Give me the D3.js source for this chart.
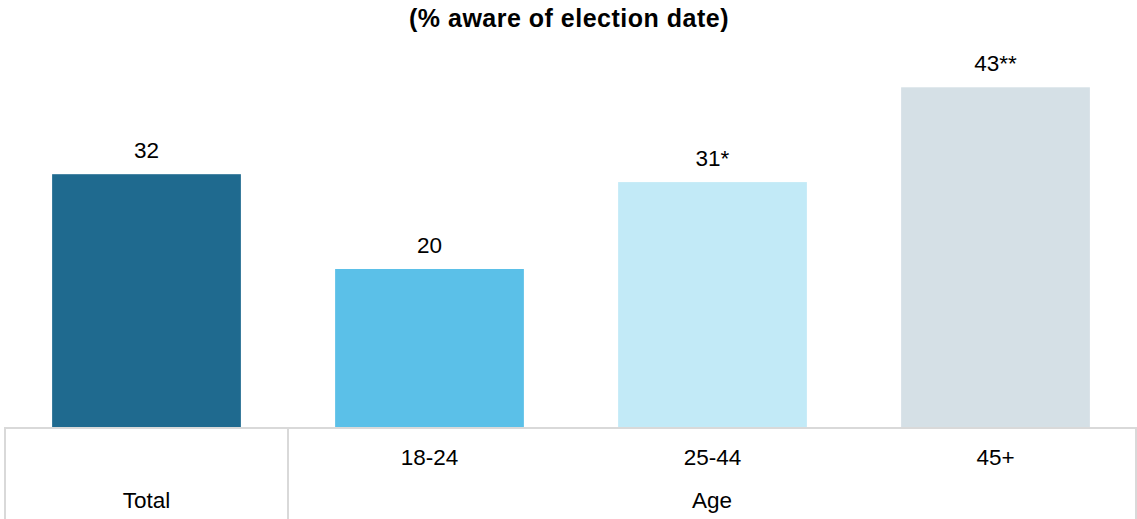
<!DOCTYPE html>
<html>
<head>
<meta charset="utf-8">
<script src="https://cdn.jsdelivr.net/npm/d3@7"></script>
<style>
  html, body { margin: 0; padding: 0; background: #ffffff; }
  svg { display: block; font-family: "Liberation Sans", Arial, sans-serif; }
</style>
</head>
<body>
<svg id="chart" width="1137" height="519"></svg>
<script>
// Awareness of the election date, overall and by age group
const categories = ["Total", "18-24", "25-44", "45+"];
const values = [32, 20, 31, 43];
const valueLabels = ["32", "20", "31*", "43**"];
const barColors = ["#1f6a8f", "#5bc0e8", "#c2eaf7", "#d5e0e6"];
const groupLabels = ["Total", "Age"];
const title = "(% aware of election date)";

const W = 1137, H = 519;
const fontSize = 22.5;
const svg = d3.select("#chart");

const x = d3.scaleBand()
  .domain(categories)
  .range([5, 1137])
  .paddingInner(0.333)
  .paddingOuter(0.1665);

const baseY = 427;
const y = d3.scaleLinear().domain([0, 50]).range([baseY, baseY - 50 * 7.9]);

// Title
svg.append("text")
  .attr("x", 569)
  .attr("y", 27)
  .attr("text-anchor", "middle")
  .attr("font-weight", "bold")
  .attr("font-size", 25)
  .attr("letter-spacing", 0.5)
  .attr("fill", "#000")
  .text(title);

// Bars
svg.append("g").selectAll("rect")
  .data(categories)
  .join("rect")
  .attr("x", d => x(d))
  .attr("width", x.bandwidth())
  .attr("y", (d, i) => y(values[i]))
  .attr("height", (d, i) => y(0) - y(values[i]))
  .attr("fill", (d, i) => barColors[i]);

// Value labels
svg.append("g").selectAll("text")
  .data(categories)
  .join("text")
  .attr("x", d => x(d) + x.bandwidth() / 2)
  .attr("y", (d, i) => y(values[i]) - 16.5)
  .attr("text-anchor", "middle")
  .attr("font-size", fontSize)
  .attr("fill", "#000")
  .text((d, i) => valueLabels[i]);

// Category table beneath the bars
const step = x.step();
const left = 5, right = 1136;
const grid = svg.append("g")
  .attr("stroke", "#d9d9d9")
  .attr("stroke-width", 2)
  .attr("fill", "none");
grid.append("line").attr("x1", left).attr("x2", right).attr("y1", baseY + 1).attr("y2", baseY + 1);
grid.append("line").attr("x1", left).attr("x2", left).attr("y1", baseY).attr("y2", H);
grid.append("line").attr("x1", right).attr("x2", right).attr("y1", baseY).attr("y2", H);
grid.append("line")
  .attr("x1", left + step).attr("x2", left + step)
  .attr("y1", baseY).attr("y2", H);

// Sub-category labels (age groups)
svg.append("g").selectAll("text")
  .data(categories.slice(1))
  .join("text")
  .attr("x", d => x(d) + x.bandwidth() / 2)
  .attr("y", 465)
  .attr("text-anchor", "middle")
  .attr("font-size", fontSize)
  .attr("fill", "#000")
  .text(d => d);

// Group labels
const groupCenters = [
  x("Total") + x.bandwidth() / 2,
  (left + step + right) / 2
];
svg.append("g").selectAll("text")
  .data(groupLabels)
  .join("text")
  .attr("x", (d, i) => groupCenters[i])
  .attr("y", 508)
  .attr("text-anchor", "middle")
  .attr("font-size", fontSize)
  .attr("fill", "#000")
  .text(d => d);
</script>
</body>
</html>
